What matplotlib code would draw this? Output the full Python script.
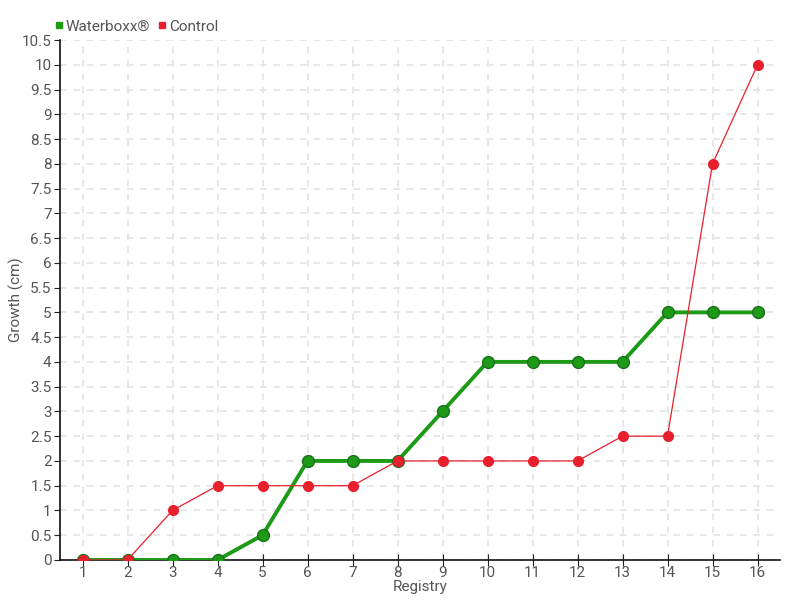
import matplotlib.pyplot as plt
from matplotlib.lines import Line2D

plt.rcParams['font.family'] = ['Roboto', 'DejaVu Sans']

registry = list(range(1, 17))
waterboxx = [0, 0, 0, 0, 0.5, 2, 2, 2, 3, 4, 4, 4, 4, 5, 5, 5]
control = [0, 0, 1, 1.5, 1.5, 1.5, 1.5, 2, 2, 2, 2, 2, 2.5, 2.5, 8, 10]
yticks = [i * 0.5 for i in range(22)]

green = '#1d9a16'
red = '#e8202e'
grey = '#555555'

fig = plt.figure(figsize=(8, 6), dpi=100)
ax = fig.add_axes([0.075, 0.0667, 0.9, 0.8666])

ax.plot(registry, waterboxx, color=green, lw=2.8, marker='o', ms=8.5,
        mfc=green, mec='#17701a', mew=1, zorder=3)
ax.plot(registry, control, color=red, lw=0.9, marker='o', ms=7,
        mfc=red, mec=red, zorder=4)

ax.set_xlim(0.5, 16.5)
ax.set_ylim(0, 10.5)
ax.set_xticks(registry)
ax.set_yticks(yticks)
ax.set_yticklabels(['%g' % v for v in yticks])
ax.tick_params(labelsize=11, labelcolor=grey, color='#222222', length=4)
ax.tick_params(axis='x', pad=0, direction='inout', length=8)
ax.tick_params(axis='y', pad=2)
ax.grid(True, color='#e3e3e3', linestyle=(0, (4, 4)), lw=1.2)
ax.set_axisbelow(True)
for s in ['top', 'right']:
    ax.spines[s].set_visible(False)
for s in ['left', 'bottom']:
    ax.spines[s].set_color('#111111')
    ax.spines[s].set_linewidth(1.2)

ax.set_xlabel('Registry', fontsize=11, color=grey, labelpad=0)
ax.set_ylabel('Growth (cm)', fontsize=11, color=grey)
ax.yaxis.set_label_coords(-0.05, 0.5)

handles = [Line2D([], [], color=green, marker='s', ls='', ms=4.5),
           Line2D([], [], color=red, marker='s', ls='', ms=4.5)]
fig.legend(handles, ['Waterboxx®', 'Control'], loc='upper left',
           bbox_to_anchor=(0.052, 0.99), ncol=2, frameon=False,
           fontsize=11, handlelength=0.5, handletextpad=0.2,
           columnspacing=0.5, labelcolor=grey)

fig.savefig('out.png')
